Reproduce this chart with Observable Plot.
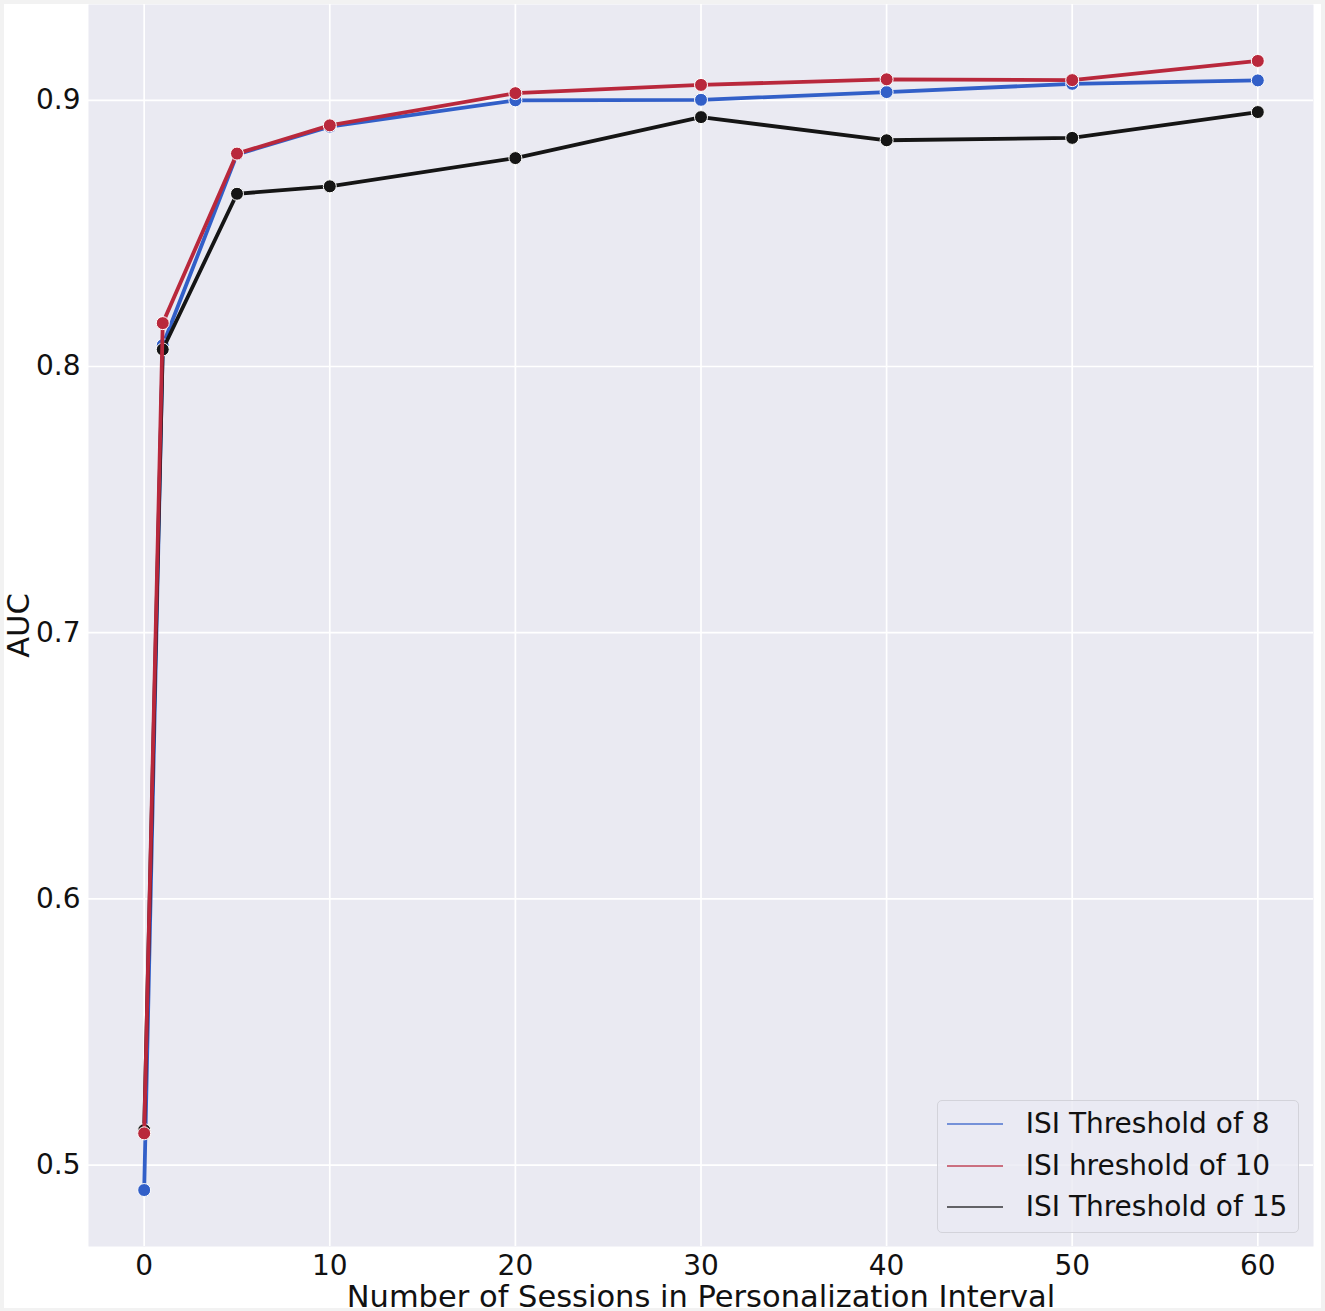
<!DOCTYPE html>
<html><head><meta charset="utf-8">
<script src="https://cdn.jsdelivr.net/npm/d3@7"></script>
<script src="https://cdn.jsdelivr.net/npm/@observablehq/plot@0.6"></script>
<style>
html,body{margin:0;padding:0;background:#fff;}
#wrap{position:relative;width:1325px;height:1311px;box-sizing:border-box;border:4px solid #f2f2f2;border-bottom-width:3px;background:#fff;overflow:hidden;font-family:"DejaVu Sans";}
#legend{position:absolute;left:932.7px;top:1096px;width:362.6px;height:132.7px;box-sizing:border-box;border:1px solid #d3d3da;border-radius:5px;background:rgba(234,234,242,0.8);padding-top:2px;}
.row{display:flex;align-items:center;height:41.7px;}
.row svg{margin-left:9px;margin-right:23px;display:block;}
.row span{font-size:28px;color:#111;line-height:41.7px;white-space:nowrap;}
</style></head><body><div id="wrap"></div>
<script>
// ---- data ----
const sessions = [0, 1, 5, 10, 20, 30, 40, 50, 60];
const seriesNames = ["ISI Threshold of 8", "ISI hreshold of 10", "ISI Threshold of 15"];
const auc8  = [0.4906, 0.8080, 0.8797, 0.8901, 0.9000, 0.9002, 0.9031, 0.9062, 0.9075];
const auc10 = [0.5119, 0.8163, 0.8800, 0.8906, 0.9027, 0.9058, 0.9079, 0.9076, 0.9148];
const auc15 = [0.5131, 0.8064, 0.8649, 0.8677, 0.8783, 0.8937, 0.8850, 0.8859, 0.8956];
const seriesColors = ["#325fc8", "#b9283c", "#151515"];
const xTicks = [0, 10, 20, 30, 40, 50, 60];
const yTicks = [0.5, 0.6, 0.7, 0.8, 0.9];
const xLabel = "Number of Sessions in Personalization Interval";
const yLabel = "AUC";

// ---- build table ----
const allSeries = [auc8, auc10, auc15];
const rows = [];
allSeries.forEach((vals, i) => vals.forEach((v, j) => rows.push({x: sessions[j], y: v, s: i})));
const allY = rows.map(d => d.y);
const yMin = d3.min(allY), yMax = d3.max(allY), pad = (yMax - yMin) * 0.05;
const xPad = (d3.max(sessions) - d3.min(sessions)) * 0.05;

const drawOrder = [0, 2, 1];
const seriesMarks = [];
for (const i of drawOrder) {
  const data = rows.filter(d => d.s === i);
  seriesMarks.push(Plot.line(data, {x: "x", y: "y", stroke: seriesColors[i], strokeWidth: 3.8}));
  seriesMarks.push(Plot.dot(data, {x: "x", y: "y", r: 6.5, fill: seriesColors[i], stroke: "white", strokeWidth: 1}));
}

const chart = Plot.plot({
  width: 1317, height: 1304,
  marginLeft: 84, marginRight: 8, marginTop: 0, marginBottom: 62,
  style: {background: "white", fontFamily: "DejaVu Sans", fontSize: "28px", color: "#111"},
  x: {domain: [d3.min(sessions) - xPad, d3.max(sessions) + xPad]},
  y: {domain: [yMin - pad, yMax + pad]},
  marks: [
    Plot.frame({fill: "#eaeaf2", stroke: "none"}),
    Plot.gridX(xTicks, {stroke: "#fff", strokeOpacity: 1, strokeWidth: 1.7}),
    Plot.gridY(yTicks, {stroke: "#fff", strokeOpacity: 1, strokeWidth: 1.7}),
    Plot.axisX(xTicks, {tickSize: 0, tickPadding: 9, label: null}),
    Plot.axisY(yTicks, {tickSize: 0, tickPadding: 8, label: null, tickFormat: d3.format(".1f")}),
    ...seriesMarks,
    Plot.text([xLabel], {text: d => d, frameAnchor: "bottom", dy: 50.5, fontSize: 30.5, textAnchor: "middle", lineAnchor: "middle", fill: "#111"}),
    Plot.text([yLabel], {text: d => d, frameAnchor: "left", dx: -69, rotate: -90, fontSize: 30.5, textAnchor: "middle", lineAnchor: "middle", fill: "#111"})
  ]
});
const wrap = document.getElementById("wrap");
wrap.appendChild(chart);

// ---- legend ----
const legend = document.createElement("div");
legend.id = "legend";
seriesNames.forEach((name, i) => {
  const row = document.createElement("div");
  row.className = "row";
  row.innerHTML = `<svg width="56" height="4"><line x1="0" x2="56" y1="2" y2="2" stroke="${seriesColors[i]}" stroke-width="1.5" stroke-opacity="0.85"/></svg><span>${name}</span>`;
  legend.appendChild(row);
});
wrap.appendChild(legend);
</script>
</body></html>
